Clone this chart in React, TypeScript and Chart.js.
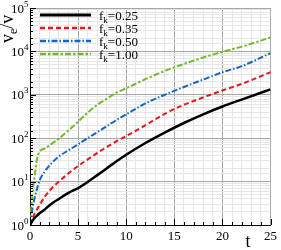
import React, { useEffect, useRef } from 'react';
import { Chart, registerables } from 'chart.js';

Chart.register(...registerables);

// time values (t)
const tValues = [0, 0.25, 0.5, 0.75, 1, 1.5, 2, 2.5, 3, 4, 5, 6, 7, 8, 9, 10, 12, 14, 16, 18, 20, 22, 25];

// v_e / v for each f_k
const fk025 = [1, 1.23, 1.48, 1.66, 1.86, 2.24, 2.82, 3.39, 3.98, 5.5, 7.1, 9.8, 14.1, 20.4, 29.5, 41.7, 77.6, 135, 224, 355, 537, 776, 1334];
const fk035 = [1, 1.41, 1.86, 2.34, 2.88, 4.37, 6.03, 7.94, 10.0, 15.5, 22.9, 32.4, 45.7, 63.1, 85.1, 112, 200, 363, 589, 871, 1259, 1778, 3311];
const fk050 = [1, 2.34, 4.37, 7.08, 10.7, 16.6, 23.4, 30.2, 38.0, 52.5, 72.4, 100, 138, 191, 263, 355, 631, 1000, 1514, 2239, 3311, 4571, 9120];
const fk100 = [1, 5.0, 14.1, 35.5, 49.0, 57.5, 67.6, 81.3, 97.7, 151, 240, 389, 589, 813, 1122, 1413, 2291, 3548, 5129, 7244, 9772, 12882, 20893];

const seriesNames = ['0.25', '0.35', '0.50', '1.00'];
const seriesData = [fk025, fk035, fk050, fk100];

// axis tick labels
const xTickLabels = [0, 5, 10, 15, 20, 25];
const yDecades = [0, 1, 2, 3, 4, 5];

const COLORS = ['#000000', '#e3191c', '#1565c0', '#76b82a'];
const DASHES: number[][] = [[], [5, 3], [6, 2, 1.5, 2], [6, 2, 2.5, 2]];
const WIDTHS = [2.5, 2, 2, 2];
const SERIF = '"Liberation Serif", "Times New Roman", serif';

const isDecade = (v: number) => Math.abs(Math.log10(v) - Math.round(Math.log10(v))) < 1e-9;

const decor = {
  id: 'decor',
  afterDraw(chart: any) {
    const ctx = chart.ctx as CanvasRenderingContext2D;
    const xs = chart.scales.x;
    const ys = chart.scales.y;
    const area = chart.chartArea;
    ctx.save();
    // inside tick marks
    ctx.strokeStyle = '#000';
    ctx.lineWidth = 1;
    xs.ticks.forEach((tk: any) => {
      const x = Math.round(xs.getPixelForValue(tk.value)) + 0.5;
      const major = xTickLabels.includes(tk.value);
      ctx.beginPath();
      ctx.moveTo(x, area.bottom);
      ctx.lineTo(x, area.bottom - (major ? 6 : 3));
      ctx.stroke();
    });
    ys.ticks.forEach((tk: any) => {
      const y = Math.round(ys.getPixelForValue(tk.value)) + 0.5;
      const major = isDecade(tk.value);
      ctx.beginPath();
      ctx.moveTo(area.left, y);
      ctx.lineTo(area.left + (major ? 6 : 3), y);
      ctx.stroke();
    });
    // y tick labels with superscripts
    ctx.fillStyle = '#000';
    ctx.textAlign = 'left';
    ctx.textBaseline = 'alphabetic';
    yDecades.forEach((e) => {
      const y = ys.getPixelForValue(Math.pow(10, e));
      ctx.font = `13px ${SERIF}`;
      const w1 = ctx.measureText('10').width;
      ctx.font = `9px ${SERIF}`;
      const sup = String(e);
      const w2 = ctx.measureText(sup).width;
      const xEnd = 28.5;
      ctx.font = `13px ${SERIF}`;
      ctx.fillText('10', xEnd - w2 - w1, y + 4.5);
      ctx.font = `9px ${SERIF}`;
      ctx.fillText(sup, xEnd - w2, y - 1.5);
    });
    // y axis title v_e/v
    ctx.save();
    ctx.translate(12.5, 43);
    ctx.rotate(-Math.PI / 2);
    ctx.font = `18px ${SERIF}`;
    ctx.fillText('v', 0, 0);
    let w = ctx.measureText('v').width;
    ctx.font = `12px ${SERIF}`;
    ctx.fillText('e', w, 4);
    w += ctx.measureText('e').width;
    ctx.font = `18px ${SERIF}`;
    ctx.fillText('/v', w, 0);
    ctx.restore();
    // x axis title t
    ctx.font = `18px ${SERIF}`;
    ctx.textAlign = 'center';
    ctx.fillText('t', 248, 247);
    // legend
    ctx.textAlign = 'left';
    seriesNames.forEach((name, i) => {
      const y = 15 + i * 13;
      ctx.save();
      ctx.strokeStyle = COLORS[i];
      ctx.lineWidth = WIDTHS[i] + 0.5;
      ctx.setLineDash(DASHES[i]);
      ctx.lineCap = 'butt';
      ctx.beginPath();
      ctx.moveTo(40, y);
      ctx.lineTo(91, y);
      ctx.stroke();
      ctx.restore();
      ctx.fillStyle = '#000';
      ctx.font = `13px ${SERIF}`;
      ctx.fillText('f', 99, y + 4.5);
      let lx = 99 + ctx.measureText('f').width;
      ctx.font = `9px ${SERIF}`;
      ctx.fillText('k', lx, y + 7.5);
      lx += ctx.measureText('k').width;
      ctx.font = `13px ${SERIF}`;
      ctx.fillText('=' + name, lx, y + 4.5);
    });
    ctx.restore();
  },
};

export default function App() {
  const ref = useRef<HTMLCanvasElement | null>(null);
  useEffect(() => {
    if (!ref.current) return;
    const chart = new Chart(ref.current, {
      type: 'line',
      data: {
        datasets: seriesData.map((arr, i) => ({
          label: 'f_k=' + seriesNames[i],
          data: tValues.map((t, j) => ({ x: t, y: arr[j] })),
          borderColor: COLORS[i],
          backgroundColor: COLORS[i],
          borderWidth: WIDTHS[i],
          borderDash: DASHES[i],
          pointRadius: 0,
          fill: false,
          cubicInterpolationMode: 'monotone' as const,
        })),
      },
      options: {
        animation: false,
        responsive: false,
        layout: { padding: { top: 8, right: 9, left: 0, bottom: 0 } },
        plugins: { legend: { display: false }, tooltip: { enabled: false } },
        scales: {
          x: {
            type: 'linear',
            min: 0,
            max: 25,
            afterFit: (s: any) => { s.height = 25; },
            ticks: {
              stepSize: 1,
              autoSkip: false,
              maxRotation: 0,
              padding: 4,
              color: '#000',
              font: { family: SERIF, size: 13 },
              callback: (v: any) => (xTickLabels.includes(Number(v)) ? String(v) : ''),
            },
            grid: {
              drawTicks: false,
              color: (c: any) => (c.tick && xTickLabels.includes(c.tick.value) ? '#a6a6a6' : '#e6e6e6'),
              lineWidth: 1,
            },
            border: { color: '#000', width: 1 },
          },
          y: {
            type: 'logarithmic',
            min: 1,
            max: 100000,
            afterFit: (s: any) => { s.width = 30; },
            ticks: { display: false, autoSkip: false },
            grid: {
              drawTicks: false,
              color: (c: any) => (c.tick && isDecade(c.tick.value) ? '#a6a6a6' : '#e6e6e6'),
              lineWidth: 1,
            },
            border: { color: '#000', width: 1 },
          },
        },
      },
      plugins: [decor],
    });
    return () => chart.destroy();
  }, []);
  return (
    <div style={{ position: 'absolute', left: 0, top: 0, width: 281, height: 250, background: '#fff' }}>
      <canvas ref={ref} width={281} height={250} style={{ display: 'block' }} />
    </div>
  );
}
